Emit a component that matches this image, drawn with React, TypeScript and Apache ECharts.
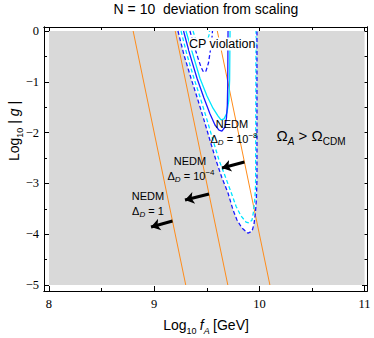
import React, { useEffect, useRef } from 'react';
import * as echarts from 'echarts';

// ---- axis ticks ----
const xTicks = [8, 9, 10, 11];
const xMinorTicks = [8.5, 9.5, 10.5];
const yTicks = [0, -1, -2, -3, -4, -5];
const yMinorTicks = [-0.5, -1.5, -2.5, -3.5, -4.5];

// ---- regions (log10 fA, log10 |g|) ----
const plotBox = [[8, 0], [11, 0], [11, -5], [8, -5]];

// outer contour (blue dashed), also the boundary of the allowed (white) region
const outerBlue = [
  [9.226, 0], [9.283, -0.47], [9.35, -0.93], [9.416, -1.36], [9.473, -1.75], [9.53, -2.15],
  [9.587, -2.54], [9.644, -2.89], [9.702, -3.19], [9.749, -3.52], [9.787, -3.72], [9.835, -3.88],
  [9.892, -3.98], [9.93, -3.94], [9.949, -3.8], [9.963, -3.56], [9.971, -3.33], [9.977, -2.93], [9.977, 0],
];
const outerCyan = [
  [9.255, 0], [9.312, -0.47], [9.378, -0.93], [9.445, -1.36], [9.502, -1.75], [9.559, -2.15],
  [9.616, -2.54], [9.673, -2.85], [9.73, -3.17], [9.778, -3.45], [9.825, -3.64], [9.873, -3.76],
  [9.901, -3.78], [9.93, -3.72], [9.944, -3.56], [9.956, -3.33], [9.964, -3.03], [9.968, 0],
];
const middleBlue = [
  [9.279, 0], [9.34, -0.47], [9.407, -0.93], [9.473, -1.32], [9.53, -1.63], [9.578, -1.85],
  [9.616, -1.95], [9.644, -1.97], [9.673, -1.89], [9.687, -1.71], [9.695, -1.46], [9.699, -1.06], [9.702, 0],
];
const middleCyan = [
  [9.302, 0], [9.369, -0.47], [9.435, -0.93], [9.502, -1.28], [9.559, -1.52], [9.606, -1.67],
  [9.635, -1.75], [9.664, -1.73], [9.692, -1.61], [9.709, -1.36], [9.717, -0.97], [9.721, 0],
];
const smallCyan = [
  [9.369, 0], [9.397, -0.18], [9.426, -0.3], [9.445, -0.34], [9.473, -0.32], [9.502, -0.22], [9.521, -0.08], [9.526, 0],
];
const smallBlue = [
  [9.34, 0], [9.378, -0.28], [9.416, -0.53], [9.445, -0.71], [9.469, -0.81], [9.492, -0.79],
  [9.516, -0.63], [9.535, -0.37], [9.549, -0.14], [9.554, 0],
];

// NEDM bounds (orange), Delta_D = 1, 1e-4, 1e-8
const nedm1 = [[8.8, 0], [9.3, -5]];
const nedm4 = [[9.2, 0], [9.7, -5]];
const nedm8 = [[9.6, 0], [10.1, -5]];

// arrows: [start, end]
const arrow1 = [[9.174, -3.74], [8.97, -3.858]];
const arrow4 = [[9.521, -3.21], [9.293, -3.327]];
const arrow8 = [[9.858, -2.579], [9.644, -2.697]];

const X_MIN = 7.9525, X_MAX = 11.023, Y_MIN = -5.118, Y_MAX = 0.0787;

const fmt = (v: number) => (v < 0 ? '\u2212' + Math.abs(v) : String(v));

function xAxis(position: string, ticks: number[], len: number, labels: boolean) {
  return {
    type: 'value', min: X_MIN, max: X_MAX, position,
    axisLine: { show: true, onZero: false, lineStyle: { color: '#000', width: 1 } },
    axisTick: { show: true, inside: true, length: len, customValues: ticks, lineStyle: { color: '#000', width: 1 } },
    axisLabel: labels
      ? { show: true, customValues: ticks, formatter: fmt, fontFamily: 'Liberation Serif', fontSize: 12.5, color: '#000', margin: 6 }
      : { show: false },
    splitLine: { show: false },
  };
}
function yAxis(position: string, ticks: number[], len: number, labels: boolean) {
  return {
    type: 'value', min: Y_MIN, max: Y_MAX, position,
    axisLine: { show: true, onZero: false, lineStyle: { color: '#000', width: 1 } },
    axisTick: { show: true, inside: true, length: len, customValues: ticks, lineStyle: { color: '#000', width: 1 } },
    axisLabel: labels
      ? { show: true, customValues: ticks, formatter: fmt, fontFamily: 'Liberation Serif', fontSize: 12.5, color: '#000', margin: 5 }
      : { show: false },
    splitLine: { show: false },
  };
}

function line(data: number[][], color: string, dashed: boolean, width: number, z: number) {
  return {
    type: 'line', data, showSymbol: false, symbol: 'none', silent: true, z,
    lineStyle: { color, width, type: dashed ? [4, 2.5] : 'solid' },
  };
}

function polygon(points: number[][], fill: string, z: number) {
  return {
    type: 'custom', coordinateSystem: 'cartesian2d', data: [[9, -2]], silent: true, z,
    renderItem: (_p: any, api: any) => ({
      type: 'polygon',
      shape: { points: points.map((p) => api.coord(p)) },
      style: { fill, stroke: 'none' },
    }),
  };
}

const SANS = 'Liberation Sans';

export default function App() {
  const ref = useRef<HTMLDivElement>(null);
  useEffect(() => {
    const chart = echarts.init(ref.current!, null, { renderer: 'svg' });
    const nedmRich = {
      n: { fontFamily: SANS, fontSize: 11, color: '#000', lineHeight: 15 },
      s: { fontFamily: SANS, fontSize: 8, fontStyle: 'italic', color: '#000', verticalAlign: 'bottom', lineHeight: 10 },
      p: { fontFamily: SANS, fontSize: 8, color: '#000', verticalAlign: 'top', lineHeight: 10 },
    };
    chart.setOption({
      animation: false,
      grid: { left: 44, top: 27, width: 323, height: 264 },
      xAxis: [
        xAxis('bottom', xTicks, 5, true),
        xAxis('bottom', xMinorTicks, 3, false),
        xAxis('top', xTicks, 5, false),
        xAxis('top', xMinorTicks, 3, false),
      ],
      yAxis: [
        yAxis('left', yTicks, 5, true),
        yAxis('left', yMinorTicks, 3, false),
        yAxis('right', yTicks, 5, false),
        yAxis('right', yMinorTicks, 3, false),
      ],
      series: [
        polygon(plotBox, '#d9d9d9', 1),
        polygon(outerBlue, '#ffffff', 2),
        line(nedm1, '#ff8c1a', false, 1, 3),
        line(nedm4, '#ff8c1a', false, 1, 3),
        line(nedm8, '#ff8c1a', false, 1, 3),
        line(smallCyan, '#00e5ff', true, 1.3, 4),
        line(smallBlue, '#1a1aff', true, 1.3, 4),
        line(middleCyan, '#00e5ff', false, 1.3, 4),
        line(middleBlue, '#1a1aff', false, 1.3, 4),
        line(outerCyan, '#00e5ff', true, 1.3, 4),
        line(outerBlue, '#1a1aff', true, 1.3, 4),
        {
          type: 'lines', coordinateSystem: 'cartesian2d', silent: true, z: 5,
          symbol: ['none', 'arrow'], symbolSize: [0, 9],
          lineStyle: { color: '#000', width: 3, opacity: 1 },
          data: [{ coords: arrow1 }, { coords: arrow4 }, { coords: arrow8 }],
        },
      ],
      graphic: [
        {
          type: 'text', x: 206, y: 9, z: 10,
          style: { text: 'N = 10  deviation from scaling', font: `14px ${SANS}`, fill: '#000', align: 'center', verticalAlign: 'middle' },
        },
        {
          type: 'text', x: 206, y: 325, z: 10,
          style: {
            text: '{n|Log}{s|10} {i|f}{si|A} {n|[GeV]}', align: 'center', verticalAlign: 'middle',
            rich: {
              n: { fontFamily: SANS, fontSize: 14, color: '#000', lineHeight: 20 },
              i: { fontFamily: SANS, fontSize: 14, fontStyle: 'italic', color: '#000', lineHeight: 20 },
              s: { fontFamily: SANS, fontSize: 9, color: '#000', verticalAlign: 'bottom', lineHeight: 11 },
              si: { fontFamily: SANS, fontSize: 9, fontStyle: 'italic', color: '#000', verticalAlign: 'bottom', lineHeight: 11 },
            },
          },
        },
        {
          type: 'text', x: 14, y: 131, rotation: Math.PI / 2, z: 10,
          style: {
            text: '{n|Log}{s|10}{n| | }{i|g}{n| |}', align: 'center', verticalAlign: 'middle',
            rich: {
              n: { fontFamily: SANS, fontSize: 14, color: '#000', lineHeight: 20 },
              i: { fontFamily: SANS, fontSize: 14, fontStyle: 'italic', color: '#000', lineHeight: 20 },
              s: { fontFamily: SANS, fontSize: 9, color: '#000', verticalAlign: 'bottom', lineHeight: 11 },
            },
          },
        },
        {
          type: 'text', x: 189, y: 44, z: 10,
          style: { text: 'CP violation', font: `12.5px ${SANS}`, fill: '#000', align: 'left', verticalAlign: 'middle', backgroundColor: '#fff' },
        },
        {
          type: 'text', x: 311, y: 135, z: 10,
          style: {
            text: '{n|\u03a9}{si|A}{n| > \u03a9}{s|CDM}', align: 'center', verticalAlign: 'middle',
            rich: {
              n: { fontFamily: SANS, fontSize: 15, color: '#000', lineHeight: 22 },
              s: { fontFamily: SANS, fontSize: 10, color: '#000', verticalAlign: 'bottom', lineHeight: 13 },
              si: { fontFamily: SANS, fontSize: 10, fontStyle: 'italic', color: '#000', verticalAlign: 'bottom', lineHeight: 13 },
            },
          },
        },
        { type: 'text', x: 232, y: 124, z: 10, style: { text: 'NEDM', font: `11px ${SANS}`, fill: '#000', align: 'center', verticalAlign: 'middle' } },
        { type: 'text', x: 234, y: 139, z: 10, style: { text: '{n|\u0394}{s|D}{n| = 10}{p|\u22128}', align: 'center', verticalAlign: 'middle', rich: nedmRich } },
        { type: 'text', x: 190, y: 161, z: 10, style: { text: 'NEDM', font: `11px ${SANS}`, fill: '#000', align: 'center', verticalAlign: 'middle' } },
        { type: 'text', x: 191, y: 176, z: 10, style: { text: '{n|\u0394}{s|D}{n| = 10}{p|\u22124}', align: 'center', verticalAlign: 'middle', rich: nedmRich } },
        { type: 'text', x: 148, y: 196, z: 10, style: { text: 'NEDM', font: `11px ${SANS}`, fill: '#000', align: 'center', verticalAlign: 'middle' } },
        { type: 'text', x: 148, y: 211, z: 10, style: { text: '{n|\u0394}{s|D}{n| = 1}', align: 'center', verticalAlign: 'middle', rich: nedmRich } },
      ],
    });
    return () => chart.dispose();
  }, []);
  return <div ref={ref} style={{ position: 'fixed', left: 0, top: 0, width: 374, height: 338, background: '#fff' }} />;
}
